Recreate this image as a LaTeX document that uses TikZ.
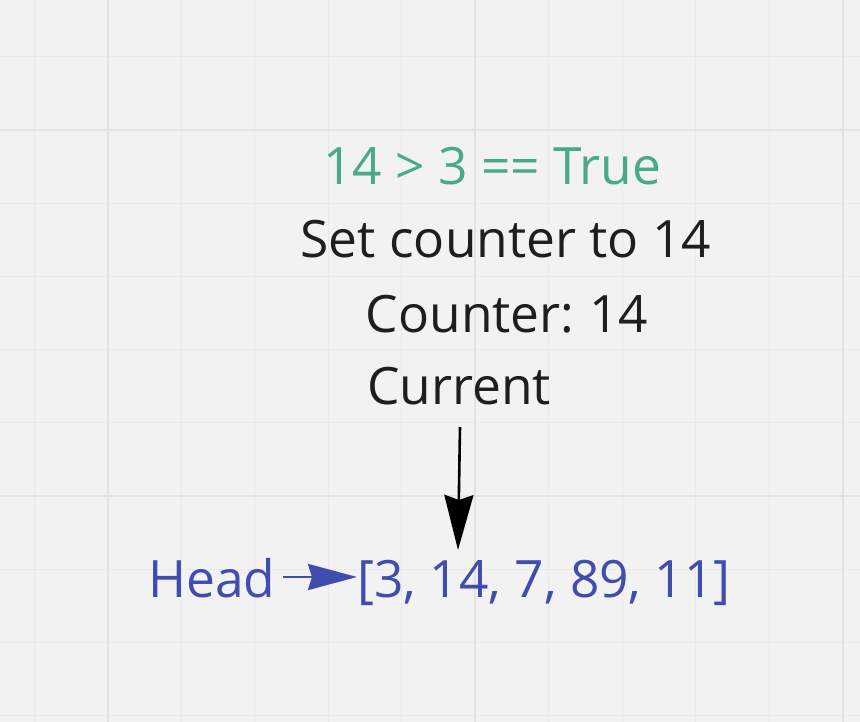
\documentclass[tikz,border=0pt]{standalone}
\usepackage{fontspec}
\setmainfont{Open Sans}
\usetikzlibrary{arrows.meta}
\definecolor{bg}{HTML}{F2F2F2}
\definecolor{minorgrid}{HTML}{EAEAEA}
\definecolor{majorgrid}{HTML}{E2E2E2}
\definecolor{tgreen}{HTML}{4AA98A}
\definecolor{tblue}{HTML}{3F4DAE}
\definecolor{tblack}{HTML}{1E1E1E}
\begin{document}
\begin{tikzpicture}[x=1pt,y=-1pt,
  lbl/.style={inner sep=0pt,outer sep=0pt,anchor=base,font=\fontsize{51.5}{60}\selectfont},
  conn/.style={line width=2.6pt}]
\fill[bg] (0,0) rectangle (860,722);
\useasboundingbox (0,0) rectangle (860,722);
% minor grid
\foreach \i in {-1,...,10} {
  \draw[minorgrid,line width=1pt] ({108+73.45*\i},0) -- ({108+73.45*\i},722);
}
\foreach \j in {-1,...,8} {
  \draw[minorgrid,line width=1pt] (0,{130+73.2*\j}) -- (860,{130+73.2*\j});
}
% major grid
\foreach \i in {0,1,2} {
  \draw[majorgrid,line width=1.8pt] ({108+367.3*\i},0) -- ({108+367.3*\i},722);
}
\foreach \j in {0,1} {
  \draw[majorgrid,line width=1.8pt] (0,{130+366*\j}) -- (860,{130+366*\j});
}
% texts
\node[lbl,text=tgreen] (cond) at (492,185) {14 > 3 == True};
\node[lbl,text=tblack] (set) at (506,258) {Set counter to 14};
\node[lbl,text=tblack] (cnt) at (507,332) {Counter:\hspace{-0.06em} 14};
\node[lbl,text=tblack] (cur) at (459,404) {Current};
\node[lbl,text=tblue] (head) at (212,597) {Head};
\node[lbl,text=tblue] (list) at (544,597) {[3, 14, 7, 89, 11]};
% connectors
\coordinate (curstart) at (460,427);
\coordinate (curtip) at (458,550);
\draw[conn,black,-{Stealth[length=55pt,width=29pt,inset=5pt]}] (curstart) -- (curtip);
\coordinate (hstart) at (283,577);
\coordinate (htip) at (357,577);
\draw[conn,tblue,-{Stealth[length=49pt,width=26pt,inset=4pt]}] (hstart) -- (htip);
\end{tikzpicture}
\end{document}
